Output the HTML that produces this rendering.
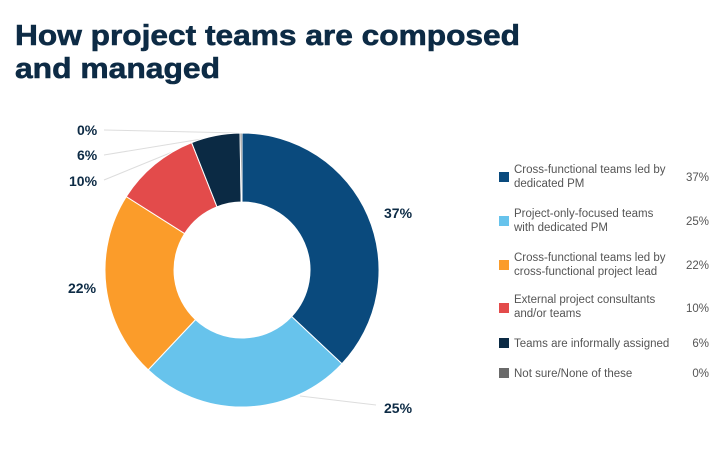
<!DOCTYPE html>
<html><head><meta charset="utf-8"><style>
html,body{margin:0;padding:0;background:#fff;}
svg{display:block;}
</style></head><body>
<svg width="722" height="449" xmlns="http://www.w3.org/2000/svg" font-family="Liberation Sans, sans-serif">
<rect width="722" height="449" fill="#fff"/>
<g fill="#0d2b45" font-weight="bold" font-size="29" stroke="#0d2b45" stroke-width="0.6">
<text x="15" y="45" textLength="505" lengthAdjust="spacingAndGlyphs">How project teams are composed</text>
<text x="15" y="78" textLength="205" lengthAdjust="spacingAndGlyphs">and managed</text>
</g>
<g stroke="#ddd" stroke-width="1" fill="none">
<line x1="104" y1="130" x2="240" y2="133"/>
<line x1="104" y1="155" x2="220" y2="136"/>
<line x1="104" y1="180" x2="192" y2="144"/>
<line x1="300" y1="396" x2="376" y2="405"/>
</g>
<g stroke="#fff" stroke-width="1">
<path d="M242,133 A137,137 0 0 1 341.9,363.8 L291.6,316.5 A68,68 0 0 0 242,202 Z" fill="#0a4a7d"/>
<path d="M341.9,363.8 A137,137 0 0 1 148.2,369.9 L195.5,319.6 A68,68 0 0 0 291.6,316.5 Z" fill="#67c3ec"/>
<path d="M148.2,369.9 A137,137 0 0 1 126.3,196.6 L184.6,233.6 A68,68 0 0 0 195.5,319.6 Z" fill="#fb9c2a"/>
<path d="M126.3,196.6 A137,137 0 0 1 191.6,142.6 L217,206.8 A68,68 0 0 0 184.6,233.6 Z" fill="#e34b4b"/>
<path d="M191.6,142.6 A137,137 0 0 1 240.1,133 L241.1,202 A68,68 0 0 0 217,206.8 Z" fill="#0b2a44"/>
<path d="M240.1,133 A137,137 0 0 1 242,133 L242,202 A68,68 0 0 0 241.1,202 Z" fill="#6a6a6a"/>
</g>
<g fill="#0d2b45" font-weight="bold" font-size="14">
<text x="77" y="135">0%</text>
<text x="77" y="160">6%</text>
<text x="69" y="186">10%</text>
<text x="68" y="293">22%</text>
<text x="384" y="218">37%</text>
<text x="384" y="413">25%</text>
</g>
<g font-size="11.5" fill="#555">
<rect x="499" y="172" width="10" height="10" fill="#0a4a7d"/>
<text x="514" y="173">Cross-functional teams led by</text><text x="514" y="187">dedicated PM</text><text x="709" y="181" text-anchor="end">37%</text>
<rect x="499" y="216" width="10" height="10" fill="#67c3ec"/>
<text x="514" y="217">Project-only-focused teams</text><text x="514" y="231">with dedicated PM</text><text x="709" y="225" text-anchor="end">25%</text>
<rect x="499" y="260" width="10" height="10" fill="#fb9c2a"/>
<text x="514" y="261">Cross-functional teams led by</text><text x="514" y="275">cross-functional project lead</text><text x="709" y="269" text-anchor="end">22%</text>
<rect x="499" y="303" width="10" height="10" fill="#e34b4b"/>
<text x="514" y="303">External project consultants</text><text x="514" y="317">and/or teams</text><text x="709" y="312" text-anchor="end">10%</text>
<rect x="499" y="338" width="10" height="10" fill="#0b2a44"/>
<text x="514" y="347">Teams are informally assigned</text><text x="709" y="347" text-anchor="end">6%</text>
<rect x="499" y="368" width="10" height="10" fill="#6a6a6a"/>
<text x="514" y="377">Not sure/None of these</text><text x="709" y="377" text-anchor="end">0%</text>
</g>
</svg>
</body></html>
